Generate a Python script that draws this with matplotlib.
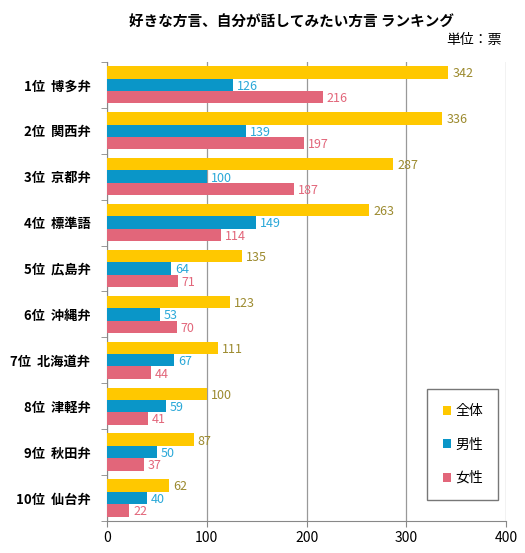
import matplotlib
matplotlib.use("Agg")
import matplotlib.pyplot as plt
import numpy as np

plt.rcParams['font.family'] = ['Noto Sans CJK JP', 'DejaVu Sans']

categories = ["1位  博多弁", "2位  関西弁", "3位  京都弁", "4位  標準語", "5位  広島弁",
              "6位  沖縄弁", "7位  北海道弁", "8位  津軽弁", "9位  秋田弁", "10位  仙台弁"]
total = [342, 336, 287, 263, 135, 123, 111, 100, 87, 62]
male = [126, 139, 100, 149, 64, 53, 67, 59, 50, 40]
female = [216, 197, 187, 114, 71, 70, 44, 41, 37, 22]
series_names = ["全体", "男性", "女性"]

bar_colors = ["#FFC800", "#0A96C8", "#E2667A"]
label_colors = ["#9C8A2E", "#2AA8D8", "#E2667A"]

fig = plt.figure(figsize=(5.25, 5.53), dpi=100)
ax = fig.add_axes([0.204, 0.058, 0.76, 0.830])

n = len(categories)
y = np.arange(n)
h = 0.27
offsets = [-h, 0, h]
handles = []
for vals, off, c, lc, name in zip([total, male, female], offsets, bar_colors, label_colors, series_names):
    b = ax.barh(y + off, vals, height=h, color=c, label=name, zorder=3)
    handles.append(b)
    for yi, v in zip(y, vals):
        ax.text(v + 4, yi + off + 0.03, str(v), color=lc, fontsize=9, va='center', ha='left', zorder=4)

ax.set_ylim(n - 0.5, -0.5)
ax.set_xlim(0, 400)
ax.set_xticks([0, 100, 200, 300, 400])
ax.set_xticklabels(["0", "100", "200", "300", "400"], fontsize=10)
ax.set_yticks(y)
ax.set_yticklabels(categories, fontsize=9.5, fontweight='bold')
ax.set_yticks(np.arange(n + 1) - 0.5, minor=True)
ax.tick_params(axis='y', which='major', length=0, pad=12)
ax.tick_params(axis='y', which='minor', length=4, color='#888888')
ax.tick_params(axis='x', length=4, color='#888888', pad=3)
ax.grid(axis='x', color='#999999', linewidth=0.9, zorder=0)
for s in ['top', 'right']:
    ax.spines[s].set_visible(False)
ax.spines['left'].set_color('#888888')
ax.spines['bottom'].set_color('#888888')

leg = ax.legend(handles=handles, labels=series_names, loc='lower right',
                bbox_to_anchor=(0.98, 0.045), frameon=True, fancybox=False,
                edgecolor='#555555', fontsize=10, handlelength=0.6, handleheight=0.6,
                labelspacing=1.4, borderpad=1.1, handletextpad=0.3, borderaxespad=0)
leg.get_frame().set_linewidth(1.0)

fig.text(0.556, 0.96, "好きな方言、自分が話してみたい方言 ランキング", ha='center', va='center',
         fontsize=10.5, fontweight='bold')
fig.text(0.955, 0.928, "単位：票", ha='right', va='center', fontsize=10)

fig.savefig("out.png", dpi=100)
